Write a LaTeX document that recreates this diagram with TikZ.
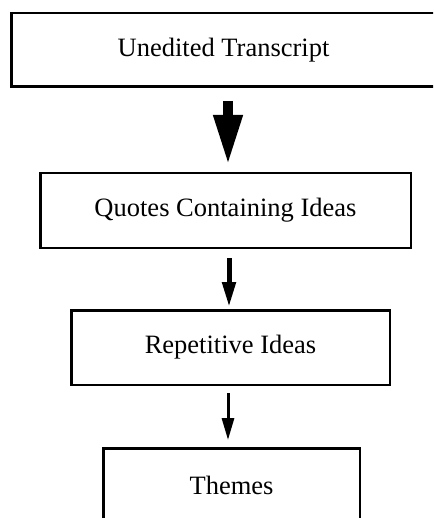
\documentclass[tikz,border=0pt]{standalone}
\usepackage{fontspec}
\setmainfont{Liberation Serif}
\usetikzlibrary{arrows.meta}
\begin{document}
\begin{tikzpicture}[x=1pt,y=-1pt,
  box/.style={draw=black,line width=2.5pt,rectangle,inner sep=0pt,
    font=\fontsize{26.5}{30}\selectfont},
  conn/.style={draw=black}]
\useasboundingbox (0,0) rectangle (433,518);
\begin{scope}
\clip (0,0) rectangle (433,518);
\node[box,minimum width=424.5pt,minimum height=73.5pt] (b1) at (223.5,50) {Unedited Transcript};
\node[box,minimum width=370.5pt,minimum height=74.5pt] (b2) at (225.5,210.5) {Quotes Containing Ideas};
\node[box,minimum width=318.5pt,minimum height=74.5pt] (b3) at (230.5,347.5) {Repetitive Ideas};
\node[box,minimum width=256.5pt,minimum height=74.5pt] (b4) at (231.5,485.5) {Themes};
\end{scope}
\coordinate (a1) at (228,0);
\coordinate (a2) at (229,0);
\coordinate (a3) at (228,0);
\draw[conn,line width=10pt,-{Triangle[length=50pt,width=27pt]},shorten <=13pt,shorten >=7pt]
  (b1.south -| a1) -- (b2.north -| a1);
\draw[conn,line width=5pt,-{Triangle[length=25pt,width=13pt]},shorten <=9pt,shorten >=2pt]
  (b2.south -| a2) -- (b3.north -| a2);
\draw[conn,line width=3pt,-{Triangle[length=22pt,width=12pt]},shorten <=7pt,shorten >=7pt]
  (b3.south -| a3) -- (b4.north -| a3);
\end{tikzpicture}
\end{document}
